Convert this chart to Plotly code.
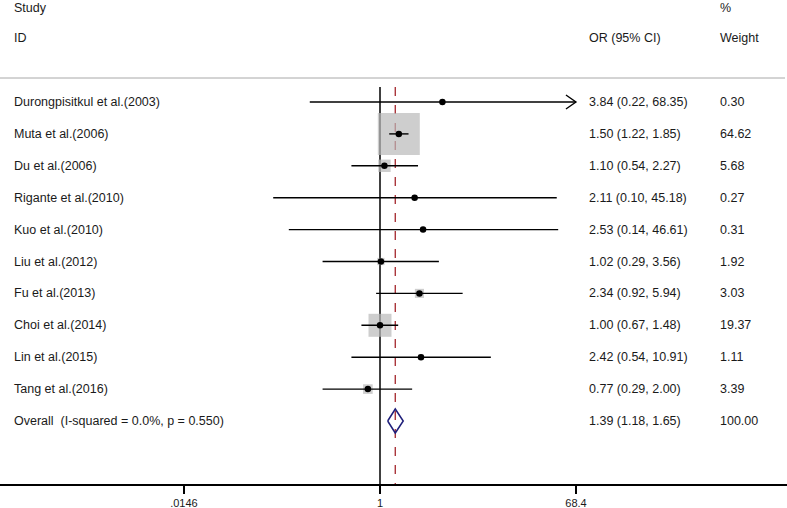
import plotly.graph_objects as go
import math

studies = ["Durongpisitkul et al.(2003)", "Muta et al.(2006)", "Du et al.(2006)",
           "Rigante et al.(2010)", "Kuo et al.(2010)", "Liu et al.(2012)",
           "Fu et al.(2013)", "Choi et al.(2014)", "Lin et al.(2015)", "Tang et al.(2016)"]
or_vals = [3.84, 1.50, 1.10, 2.11, 2.53, 1.02, 2.34, 1.00, 2.42, 0.77]
ci_low = [0.22, 1.22, 0.54, 0.10, 0.14, 0.29, 0.92, 0.67, 0.54, 0.29]
ci_high = [68.35, 1.85, 2.27, 45.18, 46.61, 3.56, 5.94, 1.48, 10.91, 2.00]
weights = [0.30, 64.62, 5.68, 0.27, 0.31, 1.92, 3.03, 19.37, 1.11, 3.39]

overall_label = "Overall  (I-squared = 0.0%, p = 0.550)"
overall_or = 1.39
overall_low = 1.18
overall_high = 1.65
overall_weight = 100.00

tick_vals = [0.0146, 1, 68.4]
tick_text = [".0146", "1", "68.4"]

W, H = 787, 508
PX_PER_DEC = 106.8
X_ONE_PX = 380
x_range = [-X_ONE_PX / PX_PER_DEC, (W - X_ONE_PX) / PX_PER_DEC]
ROW0 = 102
ROW_PX = 31.9
PLOT_BOTTOM = 484
y_top = -ROW0 / ROW_PX
y_bottom = (PLOT_BOTTOM - ROW0) / ROW_PX

def ypx(p):
    return (p - ROW0) / ROW_PX

fig = go.Figure()

n = len(studies)
rows = list(range(n))
overall_row = n

# reference lines
fig.add_trace(go.Scatter(x=[1, 1], y=[ypx(87), y_bottom], mode="lines",
                         line=dict(color="black", width=1.5), hoverinfo="skip"))
fig.add_trace(go.Scatter(x=[overall_or, overall_or], y=[ypx(87), y_bottom], mode="lines",
                         line=dict(color="#a3262c", width=1.3, dash="dash"), hoverinfo="skip"))

# weight boxes
box_sizes = [42 * math.sqrt(w / max(weights)) for w in weights]
fig.add_trace(go.Scatter(x=or_vals, y=rows, mode="markers",
                         marker=dict(symbol="square", size=box_sizes, color="#b9b9b9",
                                     line=dict(width=0)), hoverinfo="skip"))

# CI lines
for i in range(n):
    fig.add_trace(go.Scatter(x=[ci_low[i], ci_high[i]], y=[i, i], mode="lines",
                             line=dict(color="black", width=1.4), hoverinfo="skip"))
# arrow for CI reaching the display limit
for i in range(n):
    if ci_high[i] >= 60:
        tip = ci_high[i]
        back = tip / 10 ** (10 / PX_PER_DEC)
        dy = 7 / ROW_PX
        fig.add_trace(go.Scatter(x=[back, tip, back], y=[i - dy, i, i + dy], mode="lines",
                                 line=dict(color="black", width=1.4), hoverinfo="skip"))

# point estimates
fig.add_trace(go.Scatter(x=or_vals, y=rows, mode="markers",
                         marker=dict(symbol="circle", size=6.5, color="black"), hoverinfo="skip"))

# overall diamond
dh = 12 / ROW_PX
fig.add_trace(go.Scatter(x=[overall_low, overall_or, overall_high, overall_or, overall_low],
                         y=[overall_row, overall_row - dh, overall_row, overall_row + dh, overall_row],
                         mode="lines", line=dict(color="#1f1f7a", width=1.5), hoverinfo="skip"))

# texts
font = dict(family="Liberation Sans, Arial, sans-serif", size=12.5, color="#1a1a1a")
x_study = 12 / W
x_or = 587 / W
x_w = 718 / W

def add_text(x, y, text):
    fig.add_annotation(x=x, y=y, xref="paper", yref="y", text=text, showarrow=False,
                       xanchor="left", yanchor="middle", font=font)

add_text(x_study, ypx(8), "Study")
add_text(x_study, ypx(38), "ID")
add_text(x_w, ypx(8), "%")
add_text(x_or, ypx(38), "OR (95% CI)")
add_text(x_w, ypx(38), "Weight")

for i in range(n):
    add_text(x_study, i, studies[i])
    add_text(x_or, i, f"{or_vals[i]:.2f} ({ci_low[i]:.2f}, {ci_high[i]:.2f})")
    add_text(x_w, i, f"{weights[i]:.2f}")
add_text(x_study, overall_row, overall_label)
add_text(x_or, overall_row, f"{overall_or:.2f} ({overall_low:.2f}, {overall_high:.2f})")
add_text(x_w, overall_row, f"{overall_weight:.2f}")

# header rule
fig.add_shape(type="line", xref="paper", yref="y", x0=0, x1=785 / W, y0=ypx(78), y1=ypx(78),
              line=dict(color="#a8a8a8", width=1))

fig.update_layout(
    width=W, height=H, showlegend=False,
    margin=dict(l=0, r=0, t=0, b=H - PLOT_BOTTOM),
    paper_bgcolor="white", plot_bgcolor="white",
    xaxis=dict(type="log", range=x_range, showgrid=False, zeroline=False,
               showline=True, linecolor="black", linewidth=1.5,
               ticks="outside", ticklen=8, tickwidth=1.5, tickcolor="black",
               tickvals=tick_vals, ticktext=tick_text,
               tickfont=dict(family="Liberation Sans, Arial, sans-serif", size=11, color="#1a1a1a"),
               fixedrange=True),
    yaxis=dict(range=[y_bottom, y_top], visible=False, showgrid=False, zeroline=False,
               fixedrange=True),
)

fig.write_html("out.html", config={"displayModeBar": False},
               post_script="document.body.style.margin='0';document.body.style.overflow='hidden';")
